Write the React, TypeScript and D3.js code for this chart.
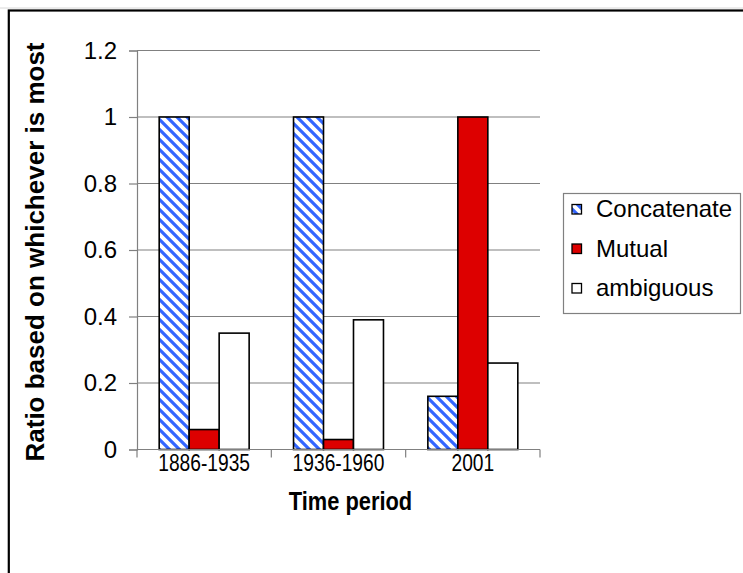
import { useEffect, useRef } from "react";
import * as d3 from "d3";

const periods = ["1886-1935", "1936-1960", "2001"];
const seriesNames = ["Concatenate", "Mutual", "ambiguous"];
const concatenate = [1, 1, 0.16];
const mutual = [0.06, 0.03, 1];
const ambiguous = [0.35, 0.39, 0.26];
const yTicks = [0, 0.2, 0.4, 0.6, 0.8, 1, 1.2];

const fills = ["url(#stripes)", "#dd0000", "#ffffff"];
const font = "Arial, 'Liberation Sans', sans-serif";

export default function App() {
  const ref = useRef<SVGSVGElement>(null);

  useEffect(() => {
    const svg = d3.select(ref.current);
    svg.selectAll("*").remove();

    const left = 137, right = 540, top = 50.5, bottom = 449.5;

    const defs = svg.append("defs");
    const pat = defs.append("pattern")
      .attr("id", "stripes")
      .attr("patternUnits", "userSpaceOnUse")
      .attr("width", 10)
      .attr("height", 10);
    pat.append("rect").attr("width", 10).attr("height", 10).attr("fill", "#fff");
    pat.append("path")
      .attr("d", "M-2,-2L12,12M-2,8L2,12M8,-2L12,2")
      .attr("stroke", "#3366ff")
      .attr("stroke-width", 3.2);

    svg.append("rect")
      .attr("width", 743).attr("height", 573).attr("fill", "#fff");
    svg.append("line")
      .attr("x1", 0).attr("x2", 743).attr("y1", 8).attr("y2", 8)
      .attr("stroke", "#d8d8d8");
    svg.append("rect")
      .attr("x", 8.8).attr("y", 10.5).attr("width", 800).attr("height", 700)
      .attr("fill", "none").attr("stroke", "#000").attr("stroke-width", 2.2);

    const x = d3.scaleBand().domain(periods).range([left, right]);
    const inner = d3.scaleBand().domain(seriesNames)
      .range([0, x.bandwidth()]).paddingInner(0).paddingOuter(0.74);
    const y = d3.scaleLinear().domain([0, 1.2]).range([bottom, top]);

    // grid
    svg.append("g").selectAll("line")
      .data(yTicks.slice(1))
      .join("line")
      .attr("x1", left).attr("x2", right)
      .attr("y1", d => y(d)).attr("y2", d => y(d))
      .attr("stroke", "#808080").attr("stroke-width", 1.2);

    const series = [concatenate, mutual, ambiguous];
    series.forEach((vals, si) => {
      svg.append("g").selectAll("rect")
        .data(vals)
        .join("rect")
        .attr("x", (_, i) => x(periods[i])! + inner(seriesNames[si])!)
        .attr("y", d => y(d))
        .attr("width", inner.bandwidth())
        .attr("height", d => bottom - y(d))
        .attr("fill", fills[si])
        .attr("stroke", "#000")
        .attr("stroke-width", 1.6);
    });

    // axes
    const yAxis = svg.append("g").attr("transform", `translate(${left},0)`)
      .call(d3.axisLeft(y).tickValues(yTicks).tickSize(8).tickPadding(12)
        .tickFormat(d => String(+d)));
    yAxis.select(".domain").attr("stroke", "#808080").attr("stroke-width", 1.2);
    yAxis.selectAll(".tick line").attr("stroke", "#808080").attr("stroke-width", 1.2);
    yAxis.selectAll("text").attr("font-size", 24).attr("font-family", font).attr("fill", "#000");

    const xAxis = svg.append("g").attr("transform", `translate(0,${bottom})`);
    xAxis.append("line").attr("x1", left).attr("x2", right)
      .attr("stroke", "#808080").attr("stroke-width", 1.2);
    xAxis.selectAll(".bt").data([...periods.map(p => x(p)!), right])
      .join("line").attr("class", "bt")
      .attr("x1", d => d).attr("x2", d => d).attr("y1", 0).attr("y2", 8)
      .attr("stroke", "#808080").attr("stroke-width", 1.2);
    xAxis.selectAll("text").data(periods).join("text")
      .attr("transform", d => `translate(${x(d)! + x.bandwidth() / 2},21) scale(0.8,1)`)
      .attr("text-anchor", "middle")
      .attr("font-size", 24).attr("font-family", font)
      .text(d => d);

    svg.append("text")
      .attr("transform", `translate(${(left + right) / 2 + 12},510) scale(0.84,1)`)
      .attr("text-anchor", "middle")
      .attr("font-size", 26).attr("font-weight", "bold").attr("font-family", font)
      .text("Time period");

    svg.append("text")
      .attr("transform", `translate(44,${(top + bottom) / 2 + 2}) rotate(-90)`)
      .attr("text-anchor", "middle")
      .attr("font-size", 26).attr("font-weight", "bold").attr("font-family", font)
      .text("Ratio based on whichever is most");

    // legend
    const lg = svg.append("g");
    lg.append("rect")
      .attr("x", 563.5).attr("y", 193.5).attr("width", 177).attr("height", 120)
      .attr("fill", "#fff").attr("stroke", "#808080").attr("stroke-width", 1.2);
    const items = lg.selectAll(".item").data(seriesNames).join("g")
      .attr("class", "item")
      .attr("transform", (_, i) => `translate(572,${209 + i * 39.5})`);
    items.append("rect")
      .attr("x", 0).attr("y", -4.5).attr("width", 9.5).attr("height", 9.5)
      .attr("fill", (_, i) => fills[i]).attr("stroke", "#000").attr("stroke-width", 1.3);
    items.append("text")
      .attr("x", 24).attr("dy", "0.35em")
      .attr("font-size", 24).attr("font-family", font)
      .text(d => d);
  }, []);

  return (
    <svg
      ref={ref}
      width={743}
      height={573}
      style={{ position: "absolute", left: 0, top: 0, display: "block" }}
    />
  );
}
